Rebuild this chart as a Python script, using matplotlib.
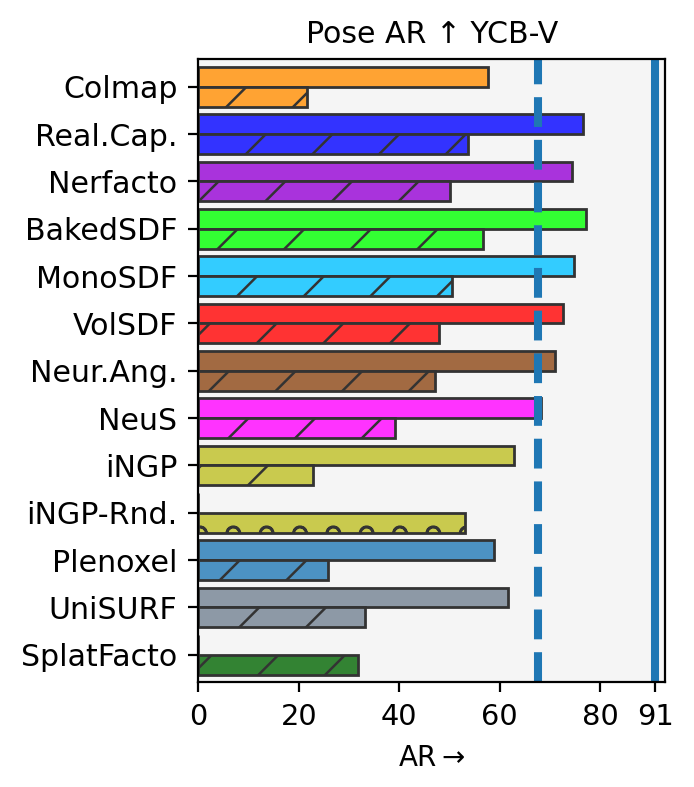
import numpy as np
import matplotlib
matplotlib.use("Agg")
import matplotlib.pyplot as plt

# methods, top to bottom
methods = ["Colmap", "Real.Cap.", "Nerfacto", "BakedSDF", "MonoSDF", "VolSDF",
           "Neur.Ang.", "NeuS", "iNGP", "iNGP-Rnd.", "Plenoxel", "UniSURF", "SplatFacto"]
colors = ["#FFA333", "#3333FF", "#A933DC", "#33FF33", "#33CCFF", "#FF3333",
          "#A26A42", "#FF33FF", "#C9CA4E", "#C9CA4E", "#4C92C3", "#8D99A6", "#338333"]

# upper (plain) and lower (hatched) bar per method
ar_top = [57.7, 76.6, 74.3, 77.1, 74.8, 72.5, 71.0, 68.3, 62.9, 0, 58.9, 61.7, 0]
ar_bottom = [21.6, 53.7, 50.2, 56.6, 50.6, 47.9, 47.1, 39.2, 22.8, 53.1, 25.9, 33.1, 31.7]
hatches = ["//", "//", "//", "//", "//", "//", "//", "//", "//", "oo", "//", "//", "//"]

dashed_ref = 67.6
solid_ref = 91
xticks = [0, 20, 40, 60, 80, 91]

plt.rcParams["font.family"] = ["DejaVu Sans"]
plt.rcParams["font.size"] = 5.4
plt.rcParams["hatch.linewidth"] = 0.45
plt.rcParams["hatch.color"] = "#333333"
plt.rcParams["axes.linewidth"] = 0.4

fig = plt.figure(figsize=(694 / 400, 787 / 400), dpi=400)
ax = fig.add_axes([0.2857, 0.1338, 0.9582 - 0.2857, 0.9247 - 0.1338])
ax.set_facecolor("#F5F5F5")

y = np.arange(len(methods))
h = 0.42
ax.barh(y - h / 2, ar_top, height=h, color=colors, edgecolor="#333333", linewidth=0.5)
bars = ax.barh(y + h / 2, ar_bottom, height=h, color=colors, edgecolor="#333333", linewidth=0.5)
for b, ht in zip(bars, hatches):
    b.set_hatch(ht)

ax.axvline(dashed_ref, color="tab:blue", lw=1.45, ls="--")
ax.axvline(solid_ref, color="tab:blue", lw=1.45)

ax.set_yticks(y)
ax.set_yticklabels(methods)
ax.set_ylim(12.57, -0.58)
ax.set_xlim(0, 92.9)
ax.set_xticks(xticks)
ax.tick_params(length=1.75, width=0.4, pad=2)
ax.tick_params(axis="x", labelsize=5.2)
ax.set_xlabel("AR$\\rightarrow$", fontsize=5, labelpad=2.5)
ax.set_title("Pose AR ↑ YCB-V", fontsize=5.4, pad=3)

fig.savefig("out.png", dpi=400)
